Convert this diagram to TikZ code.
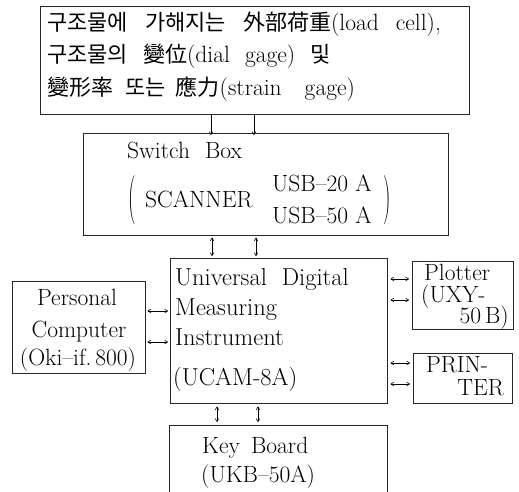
\documentclass[tikz,border=0pt]{standalone}
\usepackage{fontspec}
\newfontfamily\kr{Noto Sans CJK KR}
\usetikzlibrary{arrows.meta}
\newcommand{\krw}[1]{{\kr\fontsize{22}{25}\selectfont #1}}
\tikzset{
  box/.style={draw=black!85, line width=0.6pt, inner sep=0pt, anchor=north west},
  txt/.style={inner sep=0pt, anchor=base west, font=\fontsize{23.5}{26}\selectfont},
  big/.style={txt, font=\fontsize{24.5}{27}\selectfont},
  tip/.tip={To[length=3.5pt,width=4pt]},
  arr/.style={-tip, line width=0.6pt},
  darr/.style={tip-tip, line width=0.6pt},
}
\begin{document}
\begin{tikzpicture}[x=1pt,y=-1pt]
\useasboundingbox (0,0) rectangle (519,492);
% boxes
\node[box, minimum width=429pt, minimum height=108pt] (src) at (40,6) {};
\node[box, minimum width=365pt, minimum height=102pt] (sw) at (83,133) {};
\node[box, minimum width=217pt, minimum height=145pt] (udm) at (170,258) {};
\node[box, minimum width=133pt, minimum height=92pt] (pc) at (12,281) {};
\node[box, minimum width=101pt, minimum height=68pt] (plot) at (412,261) {};
\node[box, minimum width=99pt, minimum height=50pt] (prn) at (413,353) {};
\node[inner sep=0pt, anchor=north west, minimum width=218pt, minimum height=67pt] (kb) at (169,425) {};
\draw[draw=black!85, line width=0.6pt] (kb.south west) |- (kb.north east) -- (kb.south east);
% top box text
\node[txt] (t1) at (47,31) {\krw{구조물에}\hspace{17pt}\krw{가해지는}\hspace{17pt}\krw{外部荷重}(load\hspace{17pt}cell),};
\node[txt] (t2) at (47,63) {\krw{구조물의}\hspace{15pt}\krw{變位}(dial\hspace{15pt}gage)\hspace{15pt}\krw{및}};
\node[txt] (t3) at (47,96) {\krw{變形率}\hspace{12pt}\krw{또는}\hspace{10pt}\krw{應力}(strain\hspace{23pt}gage)};
% switch box text
\node[txt] (swt) at (127,158) {Switch\hspace{15pt}Box};
\node[txt, anchor=center] (lp) at (132,200) {\scalebox{0.9}[2.1]{(}};
\node[txt] (scn) at (145,207) {SCANNER};
\node[txt] (u20) at (272,191) {USB–20 A};
\node[txt] (u50) at (272,223) {USB–50 A};
\node[txt, anchor=center] (rp) at (387,200) {\scalebox{0.9}[2.1]{)}};
% main unit
\node[big] (m1) at (175,285) {Universal\hspace{15pt}Digital};
\node[big] (m2) at (175,315) {Measuring};
\node[big] (m3) at (175,345) {Instrument};
\node[big] (m4) at (173,385) {(UCAM-8A)};
% personal computer
\node[txt, anchor=base] (p1) at (77,305) {Personal};
\node[txt, anchor=base] (p2) at (79,337) {Computer};
\node[txt, anchor=base] (p3) at (78,365) {(Oki–if.\,800)};
% plotter / printer
\node[txt] (pl1) at (424,280) {Plotter};
\node[txt] (pl2) at (421,302) {(UXY-};
\node[txt, anchor=base east] (pl3) at (509,323) {50\,B)};
\node[txt] (pr1) at (426,372) {PRIN-};
\node[txt, anchor=base east] (pr2) at (504,395) {TER};
% key board
\node[txt] (k1) at (202,453) {Key\hspace{11pt}Board};
\node[txt] (k2) at (201,482) {(UKB–50A)};
% connector guides
\coordinate (a1) at (211,0); \coordinate (a2) at (254,0);
\coordinate (b1) at (212,0); \coordinate (b2) at (256,0);
\coordinate (c1) at (217,0); \coordinate (c2) at (258,0);
\coordinate (d1) at (0,311); \coordinate (d2) at (0,342);
\coordinate (e1) at (0,279); \coordinate (e2) at (0,300);
\coordinate (f1) at (0,363); \coordinate (f2) at (0,384);
% connectors
\draw[arr] (src.south -| a1) -- ([yshift=-2pt]sw.north -| a1);
\draw[arr] (src.south -| a2) -- ([yshift=-2pt]sw.north -| a2);
\draw[darr] ([yshift=-2pt]sw.south -| b1) -- ([yshift=2pt]udm.north -| b1);
\draw[darr] ([yshift=-2pt]sw.south -| b2) -- ([yshift=2pt]udm.north -| b2);
\draw[darr] ([yshift=-3pt]udm.south -| c1) -- ([yshift=3pt]kb.north -| c1);
\draw[darr] ([yshift=-3pt]udm.south -| c2) -- ([yshift=3pt]kb.north -| c2);
\draw[darr] ([xshift=2pt]pc.east |- d1) -- ([xshift=-2pt]udm.west |- d1);
\draw[darr] ([xshift=2pt]pc.east |- d2) -- ([xshift=-2pt]udm.west |- d2);
\draw[darr] ([xshift=3pt]udm.east |- e1) -- ([xshift=-3pt]plot.west |- e1);
\draw[darr] ([xshift=3pt]udm.east |- e2) -- ([xshift=-3pt]plot.west |- e2);
\draw[darr] ([xshift=3pt]udm.east |- f1) -- ([xshift=-3pt]prn.west |- f1);
\draw[darr] ([xshift=3pt]udm.east |- f2) -- ([xshift=-3pt]prn.west |- f2);
\end{tikzpicture}
\end{document}
